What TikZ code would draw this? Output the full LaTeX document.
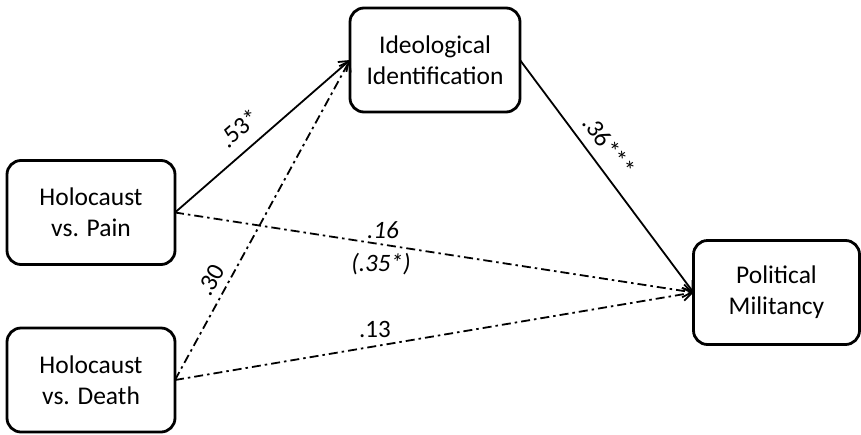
\documentclass[tikz,border=0pt]{standalone}
\usepackage{fontspec}
\setmainfont{Carlito}
\usetikzlibrary{arrows.meta}
\begin{document}
\begin{tikzpicture}[x=1pt,y=-1pt,
  box/.style={draw, line width=2.8pt, rounded corners=14pt, minimum width=168pt, minimum height=104pt, inner sep=0pt, outer sep=0pt, align=center, font=\fontsize{25.5}{31}\selectfont},
  lbl/.style={font=\fontsize{25}{30}\selectfont, inner sep=1pt},
  solidarr/.style={line width=1.8pt, -{Straight Barb[length=9pt,width=13pt,line width=1.8pt]}},
  dasharr/.style={line width=1.8pt, dash pattern=on 9pt off 4pt on 2.5pt off 4pt, -{Straight Barb[length=9pt,width=13pt,line width=1.8pt]}}
]
\useasboundingbox (0,0) rectangle (861,434);
\node[box] (pain) at (91,212.5) {Holocaust\\vs. Pain};
\node[box] (death) at (91,380) {Holocaust\\vs. Death};
\node[box, minimum width=170pt] (ideo) at (435,60) {Ideological\\Identification};
\node[box, minimum width=166pt] (mil) at (776.5,292.5) {Political\\Militancy};

\draw[solidarr] (pain.east) -- (ideo.west);
\draw[dasharr] (death.east) -- (ideo.west);
\draw[dasharr] (pain.east) -- (mil.west);
\draw[dasharr] (death.east) -- (mil.west);
\draw[solidarr] (ideo.east) -- (mil.west);

\node[lbl, rotate=41] (l53) at (239,128) {.53*};
\node[lbl, rotate=61] (l30) at (211,280) {.30};
\node[lbl, font=\fontsize{25}{30}\selectfont\itshape] (l16) at (383,230) {.16};
\node[lbl, font=\fontsize{25}{30}\selectfont\itshape] (l35) at (381,264) {(.35*)};
\node[lbl] (l13) at (375,329) {.13};
\node[lbl, rotate=-53] (l36) at (609,146) {.36***};
\end{tikzpicture}
\end{document}
